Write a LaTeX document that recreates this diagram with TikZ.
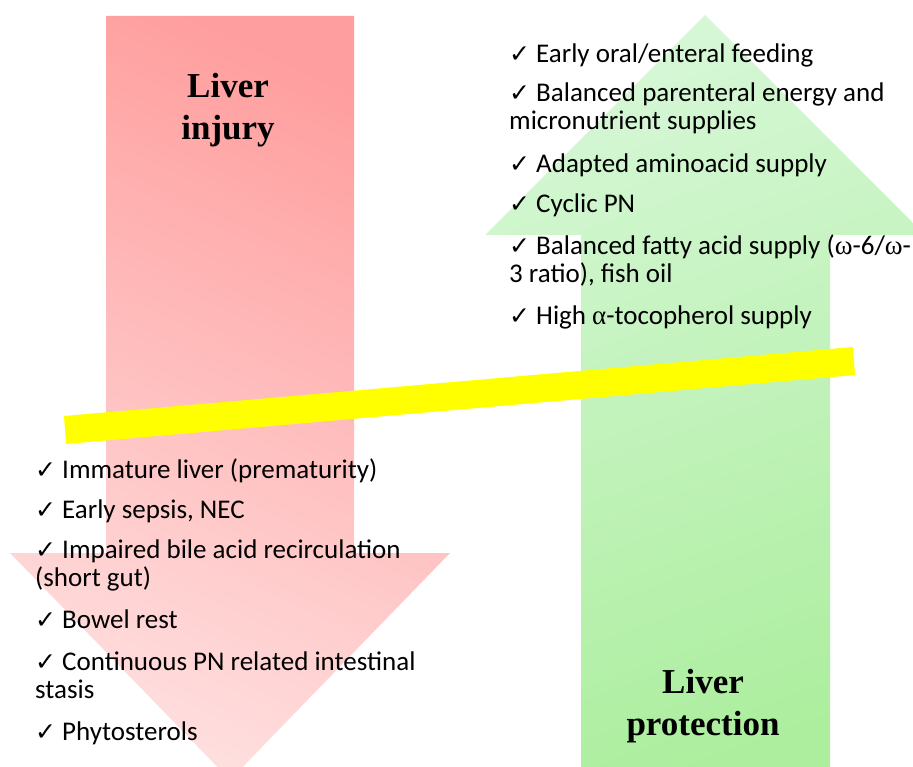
\documentclass[tikz,border=0pt]{standalone}
\usepackage{fontspec}
\setmainfont{Carlito}
\newfontfamily\titlefont{Liberation Serif}
\newfontfamily\tickfont{DejaVu Sans}
\newfontfamily\greekfont{Liberation Serif}
\newcommand{\tick}{\makebox[27pt][l]{\tickfont\fontsize{25}{25}\selectfont ✓}}
\newcommand{\gk}[1]{{\greekfont #1}}
\definecolor{injtop}{RGB}{255,158,158}
\definecolor{injbot}{RGB}{255,222,222}
\definecolor{protop}{RGB}{214,247,214}
\definecolor{probot}{RGB}{172,238,158}
\definecolor{band}{RGB}{255,255,0}

\begin{document}
\begin{tikzpicture}[
    x=1pt, y=-1pt,
    item/.style={anchor=base west, inner sep=0pt, align=left,
                 font=\fontsize{27}{28}\selectfont},
    title/.style={anchor=base, inner sep=0pt, align=center,
                  font=\titlefont\bfseries\fontsize{35}{42}\selectfont},
    injury/.style={top color=injtop, bottom color=injbot, shading angle=-25},
    protect/.style={top color=protop, bottom color=probot, shading angle=20},
]
    \useasboundingbox (0,0) rectangle (913,767);
    \clip (0,0) rectangle (913,767);

    \shade[injury] (106,16) -- (354,16) -- (354,553) -- (450,553) -- (230,780)
        -- (10,553) -- (106,553) -- cycle;
    \shade[protect] (581,790) -- (581,235) -- (485,235) -- (705,15) -- (925,235)
        -- (830,235) -- (830,790) -- cycle;
    \fill[band] (64,416) -- (853,347) -- (855,375) -- (66,444) -- cycle;

    % multi-line nodes sit on their last baseline
    \node[title] (injt) at (228,140) {Liver\\injury};
    \node[title] (prot) at (703,735) {Liver\\protection};

    \node[item] (r1) at (509,63)  {\tick Early oral/enteral feeding};
    \node[item] (r2) at (509,130) {\tick Balanced parenteral energy and\\micronutrient supplies};
    \node[item] (r3) at (509,173) {\tick Adapted aminoacid supply};
    \node[item] (r4) at (509,213) {\tick Cyclic PN};
    \node[item] (r5) at (509,283) {\tick Balanced fatty acid supply (\gk{ω}-6/\gk{ω}-\\3 ratio), fish oil};
    \node[item] (r6) at (509,325) {\tick High \gk{α}-tocopherol supply};

    \node[item] (l1) at (35,478) {\tick Immature liver (prematurity)};
    \node[item] (l2) at (35,518) {\tick Early sepsis, NEC};
    \node[item] (l3) at (35,586) {\tick Impaired bile acid recirculation\\(short gut)};
    \node[item] (l4) at (35,628) {\tick Bowel rest};
    \node[item] (l5) at (35,698) {\tick Continuous PN related intestinal\\stasis};
    \node[item] (l6) at (35,740) {\tick Phytosterols};
\end{tikzpicture}
\end{document}
